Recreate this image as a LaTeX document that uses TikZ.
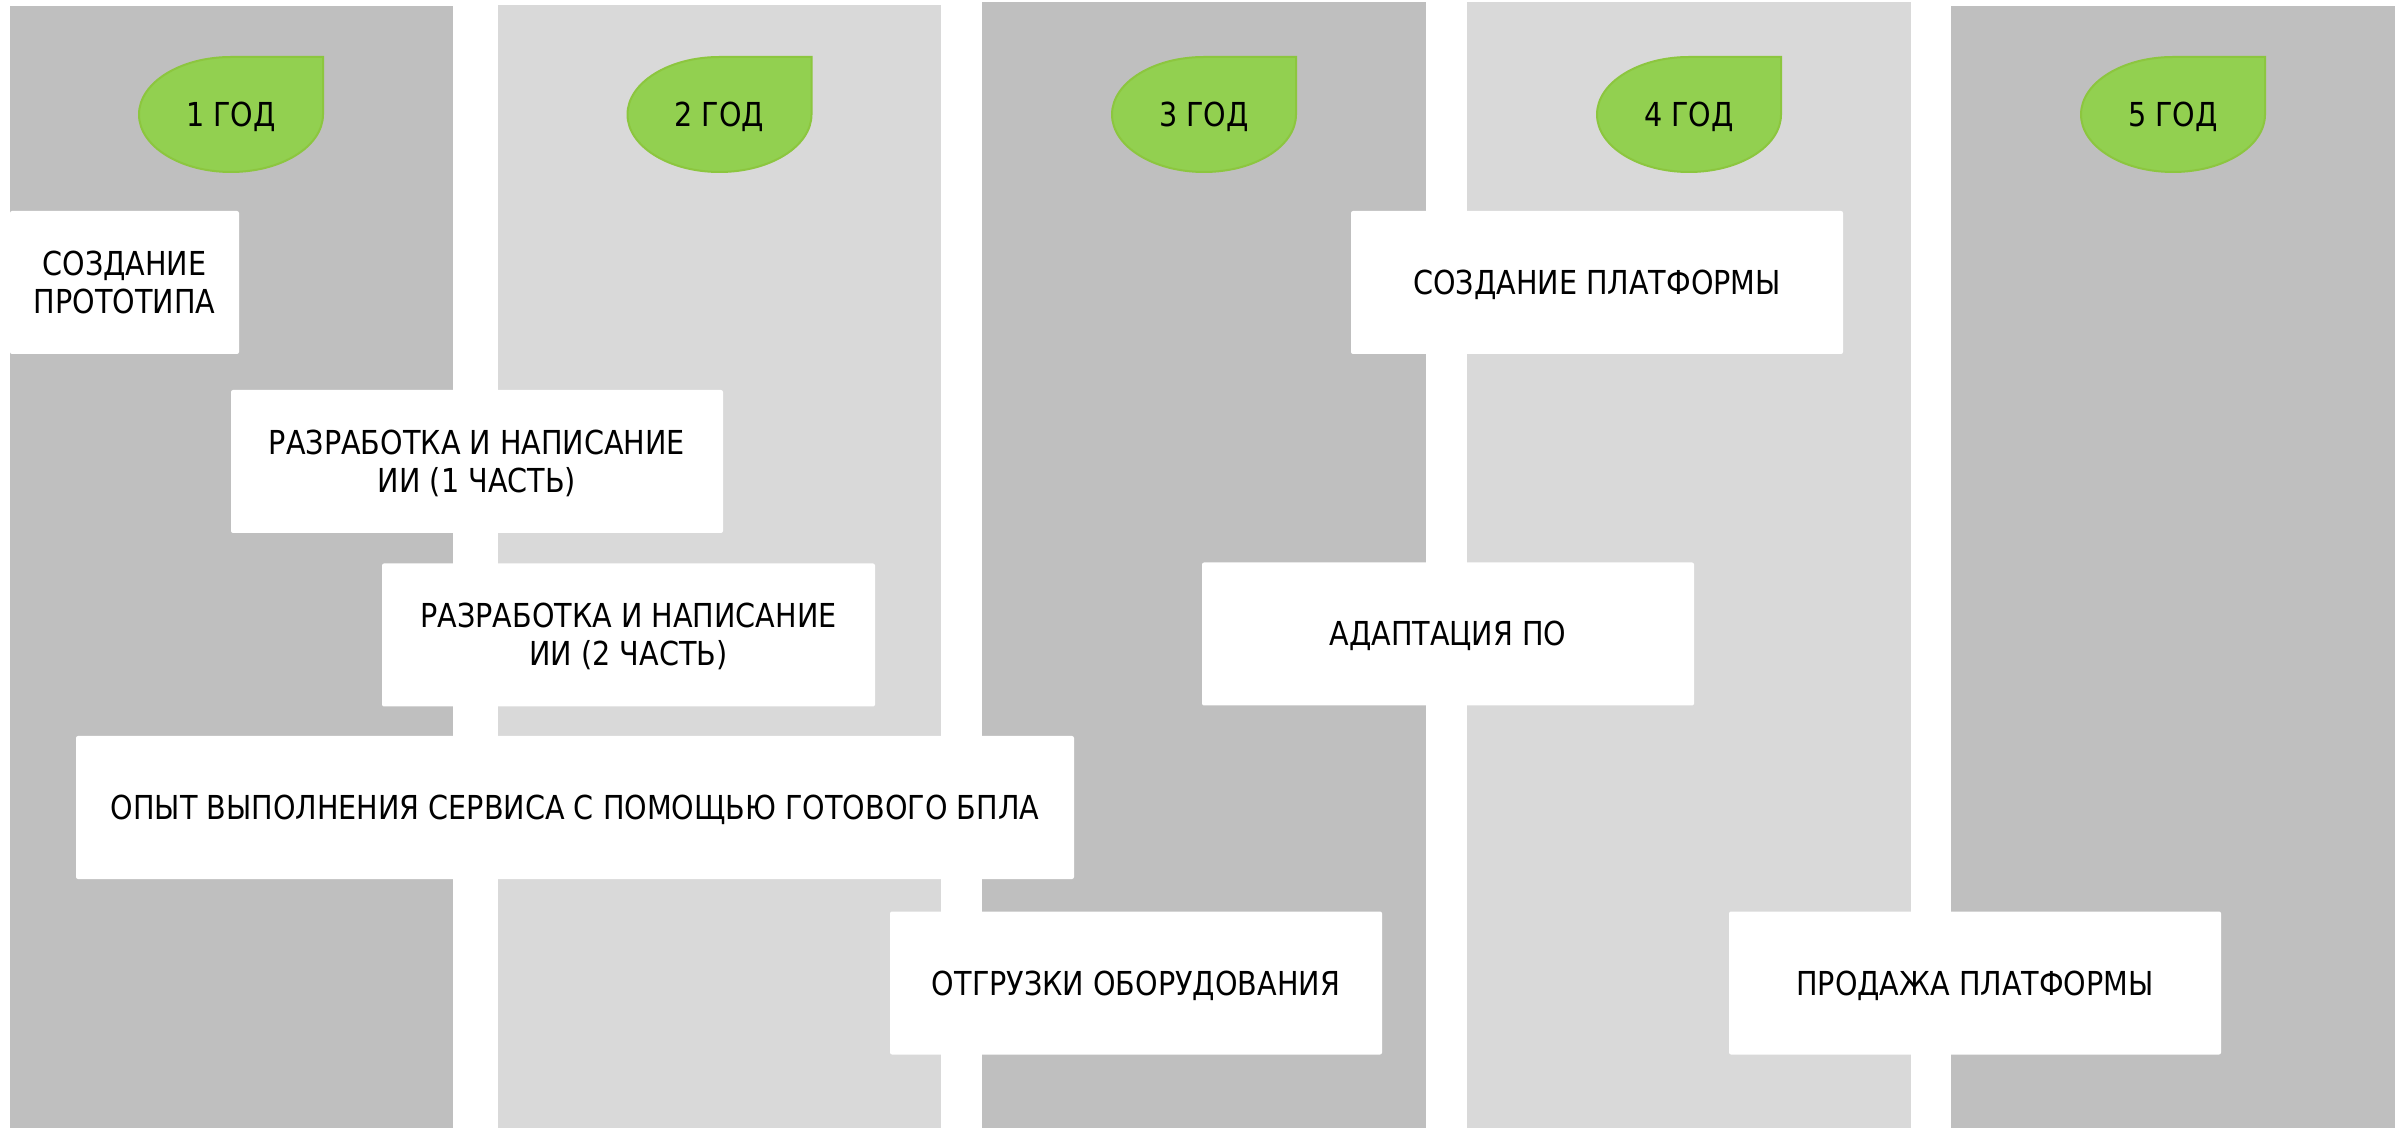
\documentclass[tikz,border=0pt]{standalone}
\usepackage{fontspec}
\setmainfont[FakeStretch=0.965]{DejaVu Sans Condensed}
\definecolor{coldark}{HTML}{BFBFBF}
\definecolor{collight}{HTML}{D9D9D9}
\definecolor{taggreen}{HTML}{92D050}
\definecolor{tagedge}{HTML}{8CC63F}
\tikzset{
  colbox/.style={fill=#1, draw=none},
  tagshape/.style={fill=taggreen, draw=tagedge, line width=2pt},
  tagtext/.style={font=\fontsize{33}{38}\selectfont, text height=24pt, text depth=0pt, inner sep=0pt},
  taskbox/.style={fill=white, draw=none, rounded corners=2pt, inner sep=0pt,
    minimum height=143pt, font=\fontsize{33}{38}\selectfont},
  oneline/.style={taskbox, text height=24pt, text depth=0pt},
  twoline/.style={taskbox, text height=24pt, text depth=38pt},
}
\newcommand\twolines[2]{\vtop{\baselineskip=38pt\halign{\hfil##\hfil\cr#1\cr#2\cr}}}
\newcommand\yeartag[3]{%
  \path[tagshape] (#2+92,1013.5) -- (#2+92,1071) -- (#2,1071)
    arc[start angle=90,end angle=360,x radius=92,y radius=57.5] -- cycle;
  \node[tagtext] (#1) at (#2,1013.5) {#3};}
\begin{document}
\begin{tikzpicture}[x=1pt,y=1pt]
\useasboundingbox (0,0) rectangle (2395,1128);
\fill[white] (0,0) rectangle (2395,1128);
% columns
\path[colbox=coldark]  (10,0)   rectangle (453,1122.3);
\path[colbox=collight] (498,0)  rectangle (941,1122.5);
\path[colbox=coldark]  (982,0)  rectangle (1426,1126);
\path[colbox=collight] (1467,0) rectangle (1911,1126);
\path[colbox=coldark]  (1951,0) rectangle (2395,1122.3);
% year tags
\yeartag{y1}{231}{1 ГОД}
\yeartag{y2}{719.5}{2 ГОД}
\yeartag{y3}{1204}{3 ГОД}
\yeartag{y4}{1689}{4 ГОД}
\yeartag{y5}{2173}{5 ГОД}
% tasks
\node[twoline, minimum width=229pt] (b1) at (124.5,845.5) {\twolines{СОЗДАНИЕ}{ПРОТОТИПА}};
\node[twoline, minimum width=492pt] (b2) at (477,666.5) {\twolines{РАЗРАБОТКА И НАПИСАНИЕ}{ИИ (1 ЧАСТЬ)}};
\node[twoline, minimum width=493pt] (b3) at (628.5,493) {\twolines{РАЗРАБОТКА И НАПИСАНИЕ}{ИИ (2 ЧАСТЬ)}};
\node[oneline, minimum width=998pt] (b4) at (575,320.5) {ОПЫТ ВЫПОЛНЕНИЯ СЕРВИСА С ПОМОЩЬЮ ГОТОВОГО БПЛА};
\node[oneline, minimum width=492pt] (b5) at (1136,145) {ОТГРУЗКИ ОБОРУДОВАНИЯ};
\node[oneline, minimum width=492pt] (b6) at (1597,845.5) {СОЗДАНИЕ ПЛАТФОРМЫ};
\node[oneline, minimum width=492pt] (b7) at (1448,494) {АДАПТАЦИЯ ПО};
\node[oneline, minimum width=492pt] (b8) at (1975,145) {ПРОДАЖА ПЛАТФОРМЫ};
\end{tikzpicture}
\end{document}
